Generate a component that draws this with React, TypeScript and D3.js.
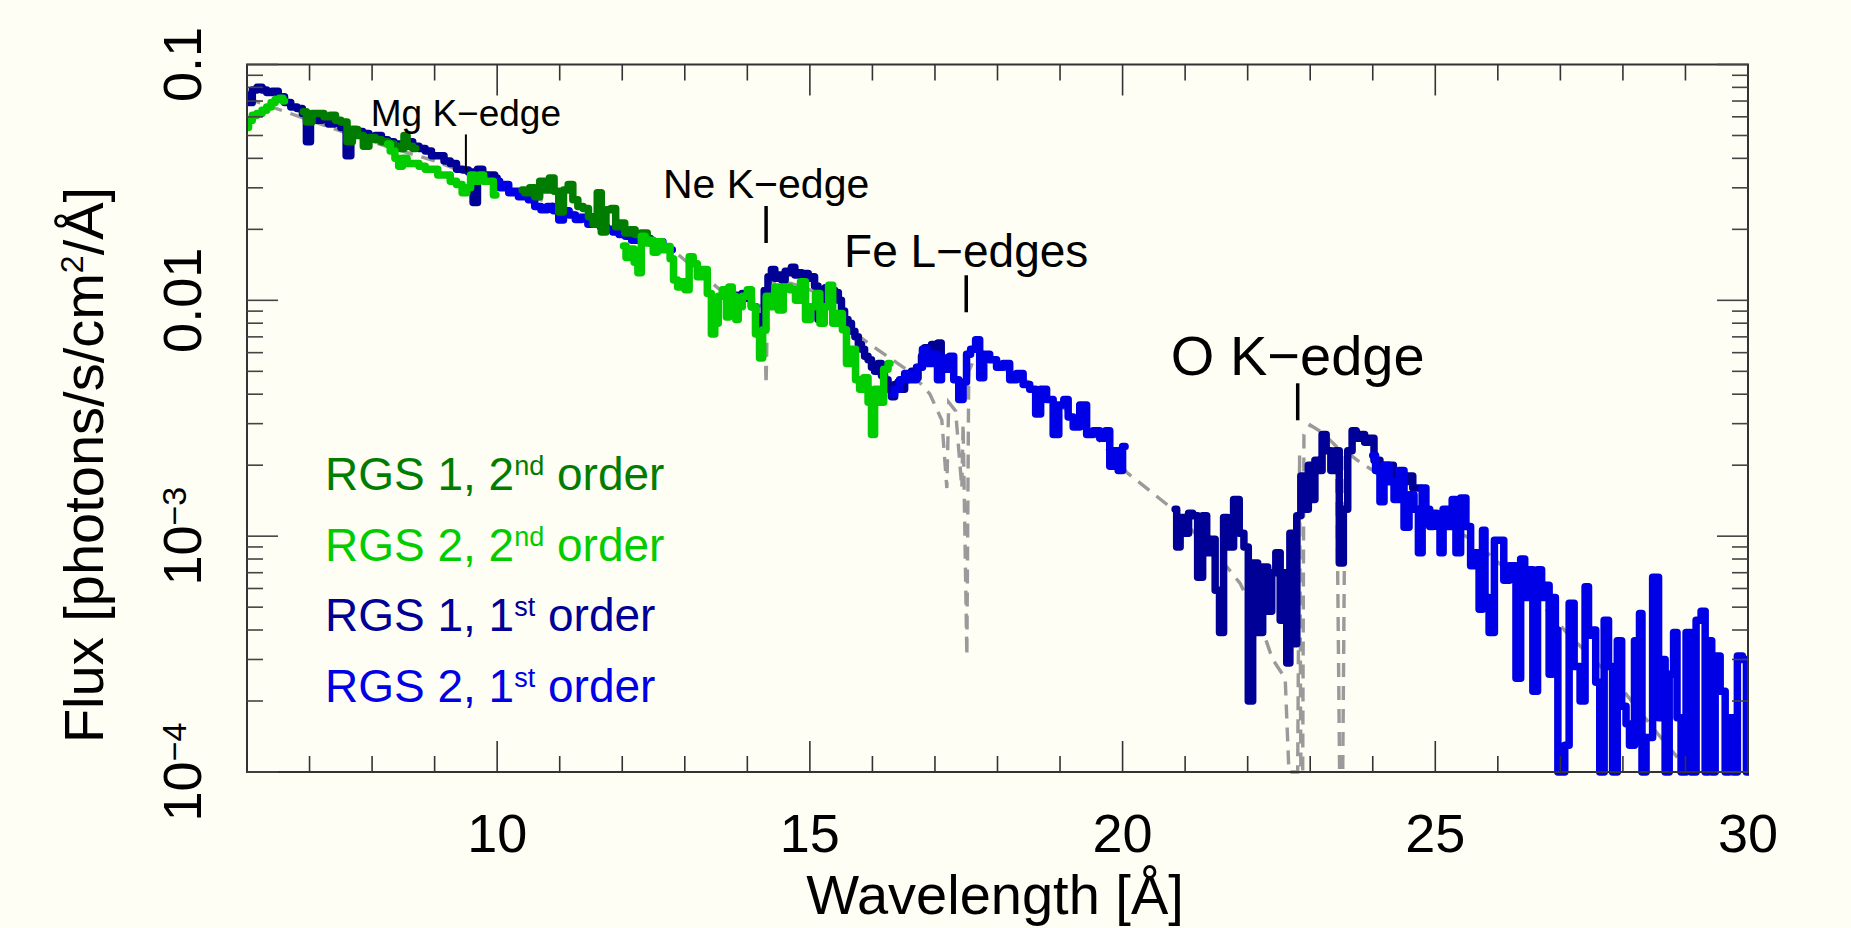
import * as d3 from "d3";

type Pt = [number, number];

// wavelength (Å), flux (photons/s/cm2/Å)
const rgs1First: Pt[][] = [
  [[6.0,0.074],[6.05,0.069],[6.12,0.078],[6.2,0.080],[6.28,0.078],[6.35,0.076],[6.45,0.077],[6.55,0.073],[6.65,0.069],[6.75,0.066],[6.85,0.065],[6.92,0.062],[6.98,0.047],[7.05,0.060],[7.15,0.058],[7.25,0.059],[7.35,0.056],[7.45,0.057],[7.55,0.054],[7.62,0.041],[7.7,0.053],[7.8,0.052],[7.9,0.051],[8.0,0.049],[8.1,0.050],[8.2,0.048],[8.3,0.047],[8.4,0.046],[8.5,0.046],[8.6,0.047],[8.7,0.045],[8.8,0.044],[8.9,0.043],[9.0,0.041],[9.1,0.041],[9.2,0.039],[9.3,0.038],[9.4,0.036],[9.5,0.0357],[9.58,0.035],[9.65,0.026],[9.72,0.036],[9.82,0.034],[9.92,0.034],[10.0,0.033]],
  [[13.8,0.0105],[13.88,0.0100],[13.95,0.0107],[14.03,0.0102],[14.1,0.0094],[14.17,0.0085],[14.24,0.0076],[14.3,0.0110],[14.36,0.0126],[14.41,0.0135],[14.47,0.0124],[14.52,0.0128],[14.58,0.0122],[14.63,0.0133],[14.68,0.0131],[14.73,0.0138],[14.79,0.0128],[14.84,0.0131],[14.9,0.0126],[14.95,0.0130],[15.0,0.0124],[15.05,0.0126],[15.1,0.0115],[15.16,0.0083],[15.22,0.0110],[15.27,0.0113],[15.32,0.0104],[15.37,0.0110],[15.43,0.0108],[15.48,0.0100],[15.53,0.0090],[15.58,0.0083],[15.64,0.0080],[15.69,0.0074],[15.75,0.0070],[15.8,0.0065],[15.85,0.0062],[15.9,0.0058],[15.96,0.0056],[16.01,0.0052],[16.06,0.0050],[16.12,0.0054],[16.17,0.0048],[16.22,0.0046],[16.28,0.0042],[16.33,0.0039],[16.38,0.0044],[16.44,0.0045],[16.49,0.0042],[16.54,0.0046],[16.6,0.0048],[16.65,0.0050],[16.7,0.0047],[16.76,0.0052],[16.81,0.0058],[16.86,0.0063],[16.92,0.0060],[16.97,0.0065],[17.02,0.0058],[17.08,0.0066],[17.12,0.0055]],
  [[20.84,0.0013],[20.89,0.0009],[20.95,0.0012],[21.03,0.00103],[21.08,0.00125],[21.16,0.00122],[21.24,0.00067],[21.32,0.00122],[21.37,0.00085],[21.45,0.00097],[21.51,0.00059],[21.59,0.00039],[21.64,0.0012],[21.72,0.0009],[21.83,0.00143],[21.9,0.00103],[21.98,0.0009],[22.04,0.0002],[22.12,0.00077],[22.2,0.00039],[22.28,0.00074],[22.36,0.00048],[22.41,0.0007],[22.49,0.00085],[22.55,0.00044],[22.6,0.0007],[22.65,0.00029],[22.7,0.00103],[22.76,0.00035],[22.81,0.00122],[22.89,0.0018],[22.94,0.0013],[23.0,0.002],[23.05,0.00143],[23.1,0.0021],[23.16,0.0019],[23.22,0.0027],[23.29,0.0023],[23.37,0.0019],[23.43,0.0023],[23.5,0.00077],[23.56,0.0013],[23.64,0.0023],[23.7,0.0028],[23.77,0.0026],[23.84,0.0027],[23.9,0.0025],[23.98,0.0026],[24.06,0.0021],[24.17,0.0020],[24.28,0.0020],[24.38,0.0018],[24.49,0.0017],[24.6,0.0018],[24.68,0.0016],[24.76,0.0016]],
];

const rgs2First: Pt[][] = [
  [[10.0,0.032],[10.08,0.030],[10.15,0.031],[10.22,0.0286],[10.3,0.029],[10.38,0.0275],[10.45,0.0286],[10.55,0.0267],[10.65,0.025],[10.75,0.0242],[10.85,0.025],[10.95,0.024],[11.02,0.0219],[11.1,0.024],[11.2,0.023],[11.3,0.022],[11.4,0.0225],[11.5,0.021],[11.6,0.021],[11.7,0.0205],[11.8,0.020],[11.9,0.0195],[12.0,0.019],[12.1,0.0187],[12.2,0.018],[12.3,0.018],[12.4,0.0183],[12.5,0.0175],[12.6,0.0177],[12.7,0.0167],[12.8,0.0164]],
  [[16.33,0.0040],[16.38,0.0042],[16.49,0.0046],[16.54,0.0049],[16.65,0.0046],[16.76,0.0052],[16.84,0.0062],[16.92,0.0054],[17.0,0.0059],[17.08,0.0046],[17.13,0.0057],[17.21,0.0051],[17.26,0.0058],[17.34,0.0046],[17.42,0.0038],[17.48,0.0045],[17.53,0.0059],[17.61,0.0062],[17.69,0.0068],[17.74,0.0047],[17.82,0.0059],[17.93,0.0056],[18.04,0.0052],[18.14,0.0054],[18.25,0.0046],[18.36,0.0049],[18.46,0.0044],[18.57,0.0042],[18.65,0.0033],[18.73,0.0042],[18.84,0.0038],[18.94,0.0027],[19.02,0.0036],[19.1,0.0038],[19.16,0.0032],[19.26,0.0029],[19.37,0.0036],[19.48,0.0027],[19.58,0.0028],[19.69,0.0026],[19.77,0.0028],[19.82,0.00198],[19.9,0.0023],[19.96,0.0019],[20.04,0.0024]],
  [[24.0,0.0022],[24.09,0.0019],[24.14,0.0014],[24.22,0.0020],[24.3,0.0017],[24.38,0.00143],[24.46,0.0019],[24.54,0.00109],[24.62,0.0015],[24.7,0.0013],[24.76,0.00085],[24.82,0.0016],[24.88,0.0013],[24.94,0.0011],[25.0,0.00125],[25.05,0.0011],[25.1,0.00085],[25.15,0.0013],[25.24,0.0011],[25.3,0.00143],[25.36,0.00085],[25.45,0.00145],[25.53,0.0011],[25.6,0.00075],[25.66,0.00085],[25.74,0.00049],[25.77,0.00106],[25.82,0.00055],[25.9,0.00039],[25.99,0.00096],[26.07,0.00096],[26.12,0.00065],[26.25,0.00075],[26.33,0.00025],[26.4,0.0008],[26.46,0.00055],[26.52,0.00072],[26.6,0.00022],[26.67,0.00072],[26.73,0.00055],[26.8,0.00062],[26.84,0.00026],[26.9,0.00055],[26.94,0.0004],[26.98,0.0001],[27.04,0.0001],[27.1,0.00013],[27.18,0.00052],[27.26,0.00028],[27.37,0.0002],[27.42,0.00061],[27.48,0.00038],[27.53,0.0004],[27.6,0.00024],[27.66,0.0001],[27.74,0.00044],[27.8,0.00028],[27.87,0.0001],[27.95,0.00036],[28.01,0.00019],[28.09,0.00016],[28.12,0.00013],[28.25,0.00036],[28.28,0.00047],[28.33,0.0001],[28.41,0.00014],[28.54,0.00067],[28.6,0.00017],[28.65,0.0003],[28.7,0.0001],[28.78,0.00026],[28.84,0.00039],[28.89,0.00017],[28.97,0.0001],[29.05,0.00039],[29.13,0.0001],[29.21,0.00044],[29.29,0.00048],[29.34,0.0001],[29.39,0.00036],[29.45,0.0001],[29.5,0.00031],[29.61,0.00022],[29.66,0.0001],[29.74,0.00017],[29.79,0.0001],[29.87,0.00031],[29.95,0.0003],[30.0,0.0001]],
];

const rgs1Second: Pt[][] = [
  [[6.9,0.063],[7.0,0.057],[7.08,0.062],[7.18,0.062],[7.28,0.060],[7.38,0.061],[7.45,0.058],[7.55,0.057],[7.65,0.047],[7.72,0.053],[7.82,0.050],[7.9,0.045],[8.0,0.049],[8.1,0.048],[8.2,0.047],[8.3,0.046],[8.4,0.045],[8.5,0.044],[8.52,0.050],[8.6,0.045],[8.7,0.044]],
  [[10.4,0.0294],[10.48,0.0286],[10.56,0.030],[10.64,0.0275],[10.72,0.032],[10.8,0.0294],[10.87,0.033],[10.95,0.029],[11.02,0.0237],[11.1,0.0294],[11.17,0.031],[11.25,0.0267],[11.33,0.025],[11.42,0.0245],[11.5,0.0226],[11.57,0.021],[11.63,0.0286],[11.7,0.0195],[11.78,0.0242],[11.86,0.0245],[11.93,0.0205],[12.0,0.0213],[12.08,0.0193],[12.16,0.0199],[12.25,0.019],[12.35,0.0193],[12.45,0.018]],
];

const rgs2Second: Pt[][] = [
  [[6.0,0.054],[6.05,0.058],[6.12,0.061],[6.2,0.062],[6.28,0.064],[6.35,0.066],[6.42,0.069],[6.48,0.071],[6.55,0.072],[6.6,0.070]],
  [[8.25,0.046],[8.33,0.043],[8.4,0.040],[8.45,0.037],[8.52,0.040],[8.6,0.038],[8.7,0.038],[8.8,0.037],[8.9,0.036],[9.0,0.036],[9.1,0.034],[9.2,0.034],[9.3,0.032],[9.4,0.031],[9.48,0.0286],[9.55,0.030],[9.6,0.034],[9.68,0.032],[9.75,0.034],[9.82,0.032],[9.9,0.032],[9.98,0.028]],
  [[12.02,0.0170],[12.1,0.0152],[12.16,0.0165],[12.22,0.0145],[12.28,0.0131],[12.33,0.0187],[12.4,0.0175],[12.47,0.0180],[12.52,0.0160],[12.6,0.0177],[12.68,0.0164],[12.74,0.0169],[12.79,0.0150],[12.85,0.0122],[12.92,0.0114],[12.98,0.0120],[13.03,0.0111],[13.11,0.0153],[13.16,0.0143],[13.24,0.0126],[13.32,0.0135],[13.4,0.0107],[13.45,0.0072],[13.51,0.0080],[13.56,0.0104],[13.64,0.0111],[13.69,0.0085],[13.72,0.0114],[13.8,0.0104],[13.83,0.0083],[13.88,0.0094],[13.96,0.0104],[14.04,0.0111],[14.09,0.0094],[14.17,0.0072],[14.22,0.0057],[14.27,0.0075],[14.33,0.0104],[14.41,0.0094],[14.47,0.0114],[14.52,0.0091],[14.63,0.0114],[14.73,0.0111],[14.81,0.0100],[14.89,0.0120],[14.97,0.0083],[15.05,0.0094],[15.13,0.0107],[15.19,0.0080],[15.27,0.0094],[15.33,0.0116],[15.4,0.0080],[15.48,0.0088],[15.56,0.0075],[15.61,0.0054],[15.69,0.0062],[15.77,0.0046],[15.82,0.0042],[15.9,0.0047],[15.96,0.0037],[16.01,0.0027],[16.06,0.0042],[16.14,0.0037],[16.22,0.0051],[16.28,0.0054]],
];

// absorbed continuum model (dashed)
const model: Pt[] = [
  [6.0,0.072],[7.0,0.058],[8.0,0.047],[9.0,0.039],[10.0,0.031],[11.0,0.025],[12.0,0.0195],[12.8,0.0164],[13.56,0.0111],[14.0,0.0098],[14.27,0.0094],[14.3,0.0044],[14.33,0.0120],[14.7,0.0118],[15.2,0.0106],[15.4,0.0088],[15.64,0.0075],[16.0,0.0064],[16.54,0.0051],[16.75,0.0045],[16.92,0.0040],[17.11,0.0031],[17.19,0.0016],[17.22,0.0037],[17.33,0.0034],[17.43,0.0016],[17.45,0.0030],[17.48,0.00097],[17.51,0.00031],[17.54,0.0050],[17.65,0.0058],[18.0,0.0053],[18.5,0.0045],[19.0,0.0036],[19.5,0.0028],[20.07,0.00186],[20.76,0.00133],[21.2,0.00100],[21.67,0.00074],[21.88,0.00063],[22.1,0.00048],[22.25,0.00039],[22.4,0.00030],[22.6,0.00025],[22.66,0.0001],[22.8,0.0001],[22.83,0.0022],[22.85,0.0001],[22.88,0.0001],[22.9,0.0027],[23.0,0.00296],[23.2,0.00274],[23.42,0.0024],[23.47,0.0001],[23.52,0.0001],[23.56,0.0023],[23.75,0.0021],[24.0,0.0019],[24.7,0.00140],[25.4,0.00103],[25.6,0.00096],[26.45,0.00061],[27.1,0.00039],[27.9,0.00024],[28.55,0.000146],[29.0,0.000105],[29.1,0.0001],
];

const edges = [
  { label: "Mg K−edge", wavelength: 9.5, flux: 0.0352, size: 37, width: 2 },
  { label: "Ne K−edge", wavelength: 14.3, flux: 0.0175, size: 41, width: 3.5 },
  { label: "Fe L−edges", wavelength: 17.5, flux: 0.0089, size: 46, width: 3.5 },
  { label: "O K−edge", wavelength: 22.8, flux: 0.0031, size: 56, width: 3.5 },
];

const legend = [
  { head: "RGS 1, 2", sup: "nd", color: "#007d00" },
  { head: "RGS 2, 2", sup: "nd", color: "#00cc00" },
  { head: "RGS 1, 1", sup: "st", color: "#000096" },
  { head: "RGS 2, 1", sup: "st", color: "#0000e6" },
];

const xTickLabels = [10, 15, 20, 25, 30];
const yTickLabels = [
  { value: 0.1, base: "0.1", sup: "" },
  { value: 0.01, base: "0.01", sup: "" },
  { value: 0.001, base: "10", sup: "−3" },
  { value: 0.0001, base: "10", sup: "−4" },
];

const font = "'Liberation Sans', Arial, Helvetica, sans-serif";
const L = 247, R = 1748, T = 64.5, B = 772;

export default function App() {
  const x = d3.scaleLinear().domain([6, 30]).range([L, R]);
  const y = d3.scaleLog().domain([1e-4, 0.1]).range([B, T]).clamp(true);
  const stepLine = d3
    .line<Pt>()
    .x((d) => x(d[0]))
    .y((d) => y(d[1]))
    .curve(d3.curveStep);
  const modelLine = d3
    .line<Pt>()
    .x((d) => x(d[0]))
    .y((d) => y(d[1]));

  const series = [
    { segs: rgs1First, color: legend[2].color },
    { segs: rgs2First, color: legend[3].color },
    { segs: rgs1Second, color: legend[0].color },
    { segs: rgs2Second, color: legend[1].color },
  ];

  const xTicks = d3.range(6, 31, 1);
  const yTicks = y.ticks();
  const isMajor = (v: number) => Math.abs(Math.log10(v) - Math.round(Math.log10(v))) < 1e-6;

  return (
    <svg width={1851} height={928} style={{ position: "absolute", left: 0, top: 0 }} fontFamily={font}>
      <rect width={1851} height={928} fill="#fefef4" />
      <defs>
        <clipPath id="plotclip">
          <rect x={L} y={T} width={R - L + 1} height={B - T + 4} />
        </clipPath>
      </defs>

      <g clipPath="url(#plotclip)">
        <path d={modelLine(model) || ""} fill="none" stroke="#9a9a9a" strokeWidth={3.4} strokeDasharray="14,9" />
        {series.map((s, i) =>
          s.segs.map((seg, j) => (
            <path
              key={`${i}-${j}`}
              d={stepLine(seg) || ""}
              fill="none"
              stroke={s.color}
              strokeWidth={7.5}
              strokeLinejoin="round"
              strokeLinecap="round"
            />
          ))
        )}
      </g>

      {/* frame and ticks */}
      <rect x={L} y={T} width={R - L} height={B - T} fill="none" stroke="#333" strokeWidth={2} />
      {xTicks.map((t) => {
        const len = t % 5 === 0 ? 31 : 16;
        return (
          <g key={`xt${t}`} stroke="#333" strokeWidth={1.6}>
            <line x1={x(t)} x2={x(t)} y1={B} y2={B - len} />
            <line x1={x(t)} x2={x(t)} y1={T} y2={T + len} />
          </g>
        );
      })}
      {yTicks.map((t, i) => {
        const len = isMajor(t) ? 31 : 16;
        return (
          <g key={`yt${i}`} stroke="#444" strokeWidth={1.6}>
            <line x1={L} x2={L + len} y1={y(t)} y2={y(t)} />
            <line x1={R} x2={R - len} y1={y(t)} y2={y(t)} />
          </g>
        );
      })}

      {xTickLabels.map((t) => (
        <text key={`xl${t}`} x={x(t)} y={852} fontSize={54} textAnchor="middle" fill="#000">
          {t}
        </text>
      ))}
      {yTickLabels.map((t) => (
        <text
          key={`yl${t.value}`}
          x={201}
          y={y(t.value)}
          transform={`rotate(-90, 201, ${y(t.value)})`}
          fontSize={54}
          textAnchor="middle"
          fill="#000"
        >
          <tspan>{t.base}</tspan>
          {t.sup && (
            <tspan dy={-15} fontSize={34}>
              {t.sup}
            </tspan>
          )}
        </text>
      ))}

      <text x={995} y={914} fontSize={56} textAnchor="middle" fill="#000">
        Wavelength [Å]
      </text>
      <text x={103} y={465} transform="rotate(-90, 103, 465)" fontSize={56} textAnchor="middle" fill="#000">
        <tspan>Flux [photons/s/cm</tspan>
        <tspan dy={-20} fontSize={32}>2</tspan>
        <tspan dy={20}>/Å]</tspan>
      </text>

      {edges.map((e) => {
        const ex = x(e.wavelength);
        const yb = y(e.flux);
        return (
          <g key={e.label}>
            <line x1={ex} x2={ex} y1={yb} y2={yb - 37} stroke="#000" strokeWidth={e.width} />
            <text x={ex} y={yb - 45} fontSize={e.size} textAnchor="middle" fill="#000">
              {e.label}
            </text>
          </g>
        );
      })}

      {legend.map((l, i) => (
        <text key={l.head + l.sup} x={325} y={490 + i * 70.7} fontSize={46} fill={l.color}>
          <tspan>{l.head}</tspan>
          <tspan dy={-15} fontSize={27}>{l.sup}</tspan>
          <tspan dy={15}> order</tspan>
        </text>
      ))}
    </svg>
  );
}
